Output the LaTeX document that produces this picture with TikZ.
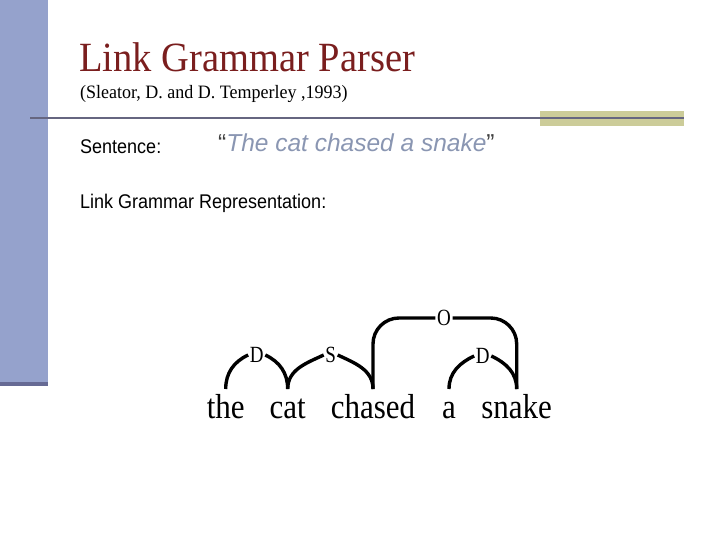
\documentclass[tikz,border=0pt]{standalone}
\usepackage{fontspec}
\usepackage{graphicx}
\setmainfont{Liberation Serif}
\setsansfont{Liberation Sans}

\definecolor{barblue}{RGB}{149,162,204}
\definecolor{bardark}{RGB}{102,106,148}
\definecolor{rulegray}{RGB}{102,102,128}
\definecolor{olivebar}{RGB}{204,204,153}
\definecolor{titlered}{RGB}{122,30,30}
\definecolor{quoteblue}{RGB}{138,150,178}

% text a little taller than wide, as on the slide
\newcommand{\tallbox}[2]{\scalebox{1}[#1]{#2}}

\tikzset{
  slidetext/.style={inner sep=0pt, anchor=base west, font=\sffamily\fontsize{18}{20}\selectfont},
  word/.style={inner sep=0pt, anchor=base, font=\fontsize{31}{31}\selectfont},
  linklabel/.style={inner sep=1.5pt, font=\fontsize{19}{19}\selectfont},
  link/.style={line width=3.4pt}
}

\begin{document}
\begin{tikzpicture}[x=1pt,y=1pt]
\useasboundingbox (0,0) rectangle (720,-540);
% slide frame
\fill[barblue] (0,0) rectangle (47.5,-381.5);
\fill[bardark] (0,-381.5) rectangle (47.5,-385.5);
\fill[olivebar] (540,-111) rectangle (684,-125.7);
\draw[rulegray, line width=2pt] (30,-117.7) -- (684,-117.7);
% headings
\node[slidetext, font=\fontsize{38.5}{38.5}\selectfont, text=titlered] (title) at (79,-72) {\tallbox{1.08}{Link Grammar Parser}};
\node[slidetext, font=\fontsize{18}{18}\selectfont] (ref) at (80,-99) {\tallbox{1.05}{(Sleator, D. and D. Temperley ,1993)}};
\node[slidetext] (sent) at (80,-154) {\tallbox{1.1}{Sentence:}};
\node[slidetext, font=\sffamily\fontsize{24.5}{24.5}\selectfont, text=darkgray] (quote) at (218,-152) {“\textcolor{quoteblue}{\itshape The cat chased a snake}”};
\node[slidetext] (repr) at (80,-208.7) {\tallbox{1.1}{Link Grammar Representation:}};
% words
\node[word] (the) at (225.7,-418) {\tallbox{1.12}{the}};
\node[word] (cat) at (287.7,-418) {\tallbox{1.12}{cat}};
\node[word] (chased) at (373,-418) {\tallbox{1.12}{chased}};
\node[word] (a) at (449,-418) {\tallbox{1.12}{a}};
\node[word] (snake) at (516.7,-418) {\tallbox{1.12}{snake}};
% link labels
\node[linklabel] (d1) at (256.7,-355) {\tallbox{1.22}{D}};
\node[linklabel] (s) at (330.7,-355) {\tallbox{1.22}{S}};
\node[linklabel] (o) at (444,-318) {\tallbox{1.22}{O}};
\node[linklabel] (d2) at (482.7,-356) {\tallbox{1.22}{D}};
% links
\draw[link] ([yshift=29pt]the.base) to[out=90,in=205] (d1.west);
\draw[link] (d1.east) to[out=-25,in=90] ([yshift=29pt]cat.base);
\draw[link] ([yshift=29pt]cat.base) to[out=90,in=205] (s.west);
\draw[link] (s.east) to[out=-25,in=90] ([yshift=29pt]chased.base);
\draw[link, rounded corners=26pt] ([yshift=29pt]chased.base) |- (o.west);
\draw[link, rounded corners=26pt] (o.east) -| ([yshift=29pt]snake.base);
\draw[link] ([yshift=29pt]a.base) to[out=90,in=205] (d2.west);
\draw[link] (d2.east) to[out=-25,in=90] ([yshift=29pt]snake.base);
\end{tikzpicture}
\end{document}
